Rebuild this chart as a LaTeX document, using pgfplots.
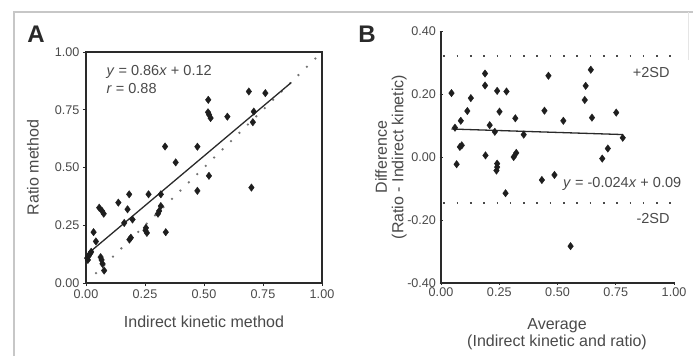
\documentclass[border=0pt]{standalone}
\usepackage{fontspec}
\setmainfont{Liberation Sans}
\usepackage{pgfplots}
\pgfplotsset{compat=1.18}
\definecolor{txt}{HTML}{4A4A4A}
\definecolor{ax}{HTML}{2A2A2A}
\definecolor{pt}{HTML}{1E1E1E}
\newcommand{\tickfont}{\fontsize{12.6}{14}\selectfont}
\newcommand{\labfont}{\fontsize{16}{16.5}\selectfont}
\newcommand{\eqfont}{\fontsize{14.5}{16}\selectfont}
\pgfplotsset{
  common/.style={
    scale only axis,
    tick align=outside,
    major tick length=3pt,
    axis line style={line width=1.4pt, color=ax},
    tick style={line width=1pt, color=ax},
    tick label style={font=\tickfont, text=txt},
    label style={font=\labfont, text=txt},
    /pgf/number format/.cd, fixed, fixed zerofill, precision=2, assume math mode=true,
  },
  pts/.style={only marks, mark=diamond*, mark size=3.7pt, color=pt},
}
\begin{document}
\begin{tikzpicture}
\useasboundingbox (0pt,0pt) rectangle (693pt,-356pt);
\fill[white] (0pt,0pt) rectangle (693pt,-356pt);
\draw[black!22, line width=1.3pt] (14pt,-356pt) -- (14pt,-12pt) -- (693pt,-12pt);
\draw[black!10, line width=1pt] (688pt,-12pt) -- (688pt,-60pt);
\node[font=\fontsize{24}{26}\selectfont\bfseries, text=ax] at (36pt,-34pt) {A};
\node[font=\fontsize{24}{26}\selectfont\bfseries, text=ax] at (367pt,-34pt) {B};

% Panel A
\begin{axis}[common,
  at={(86pt,-283pt)}, anchor=south west,
  width=236pt, height=231pt,
  xmin=0, xmax=1, ymin=0, ymax=1,
  xtick={0,0.25,0.5,0.75,1}, ytick={0,0.25,0.5,0.75,1},
  xtick pos=left, ytick pos=left,
  xlabel={Indirect kinetic method},
  ylabel={Ratio method},
  xlabel style={at={(axis description cs:0.5,-0.168)}, anchor=center},
  ylabel style={at={(axis description cs:-0.225,0.5)}, anchor=center, rotate=0},
  clip=false,
]
\addplot[black!55, line width=1.8pt, dash pattern=on 1.8pt off 10pt] coordinates {(0.04,0.04) (1.0,1.0)};
\addplot[ax, line width=1.3pt] coordinates {(0,0.12) (0.87,0.868)};
\addplot[pts] coordinates {
(0.005,0.108) (0.012,0.118) (0.018,0.128) (0.008,0.100) (0.022,0.135)
(0.032,0.220) (0.042,0.180) (0.056,0.326) (0.075,0.300) (0.068,0.312)
(0.066,0.100) (0.070,0.083) (0.077,0.054) (0.062,0.112)
(0.137,0.348) (0.176,0.319) (0.183,0.384) (0.162,0.260) (0.197,0.275)
(0.190,0.196) (0.184,0.188)
(0.254,0.239) (0.258,0.217) (0.252,0.228) (0.265,0.384) (0.317,0.384)
(0.317,0.333) (0.310,0.312) (0.305,0.300) (0.338,0.220) (0.335,0.591)
(0.380,0.522) (0.472,0.590) (0.472,0.399) (0.521,0.464) (0.518,0.793)
(0.517,0.739) (0.528,0.714) (0.522,0.728) (0.599,0.720) (0.690,0.829)
(0.760,0.822) (0.711,0.742) (0.707,0.696) (0.701,0.413)
};
\node[font=\eqfont, text=txt, anchor=west] at (axis cs:0.072,0.913) {\textit{y} = 0.86\textit{x} + 0.12};
\node[font=\eqfont, text=txt, anchor=west] at (axis cs:0.072,0.844) {\textit{r} = 0.88};
\end{axis}

% Panel B
\begin{axis}[common,
  at={(441pt,-283pt)}, anchor=south west,
  width=233pt, height=252pt,
  xmin=0, xmax=1, ymin=-0.4, ymax=0.4,
  axis lines=left, axis line style={-},
  xtick={0,0.25,0.5,0.75,1}, ytick={-0.4,-0.2,0,0.2,0.4},
  xlabel={Average\\(Indirect kinetic and ratio)},
  ylabel={Difference\\(Ratio - Indirect kinetic)},
  xlabel style={align=center, at={(axis description cs:0.498,-0.202)}, anchor=center},
  ylabel style={align=center, at={(axis description cs:-0.215,0.5)}, anchor=center},
  clip=false,
]
\addplot[txt, line width=1.8pt, dash pattern=on 1.6pt off 11.7pt] coordinates {(0.01,0.32) (1.0,0.32)};
\addplot[txt, line width=1.8pt, dash pattern=on 1.6pt off 11.7pt] coordinates {(0.01,-0.147) (1.0,-0.147)};
\addplot[ax, line width=1.3pt] coordinates {(0.045,0.0889) (0.78,0.0713)};
\addplot[pts] coordinates {
(0.045,0.203) (0.060,0.093) (0.067,-0.023) (0.085,0.115) (0.081,0.032)
(0.089,0.037) (0.113,0.146) (0.128,0.187) (0.189,0.265) (0.189,0.227)
(0.191,0.005) (0.209,0.101) (0.231,0.080) (0.241,0.210) (0.251,0.144)
(0.241,-0.021) (0.241,-0.032) (0.238,-0.043) (0.281,0.208) (0.277,-0.115)
(0.319,0.123) (0.312,0.000) (0.323,0.013) (0.355,0.071) (0.433,-0.073)
(0.444,0.147) (0.461,0.258) (0.487,-0.057) (0.525,0.115) (0.556,-0.283)
(0.617,0.181) (0.621,0.226) (0.643,0.277) (0.648,0.125) (0.692,-0.005)
(0.716,0.027) (0.752,0.141) (0.780,0.061)
};
\node[font=\eqfont, text=txt, anchor=east] at (axis cs:0.996,0.267) {+2SD};
\node[font=\eqfont, text=txt, anchor=east] at (axis cs:0.996,-0.194) {-2SD};
\node[font=\eqfont, text=txt, anchor=west, fill=white, inner sep=1pt] at (axis cs:0.519,-0.087) {\textit{y} = -0.024\textit{x} + 0.09};
\end{axis}
\end{tikzpicture}
\end{document}
